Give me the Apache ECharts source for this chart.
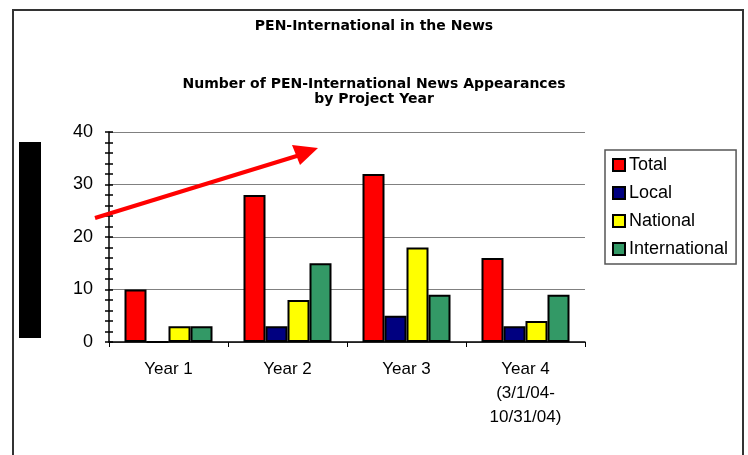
<!DOCTYPE html>
<html lang="en">
<head>
    <meta charset="UTF-8">
    <title>PEN-International in the News</title>
    <script src="https://cdn.jsdelivr.net/npm/echarts@6/dist/echarts.min.js"></script>
    <style>
        html, body { margin: 0; padding: 0; background: #fff; }
    </style>
</head>
<body>
    <div id="main" style="width:748px;height:455px;"></div>

    <script>
        // categories and series values
        const years = ['Year 1', 'Year 2', 'Year 3', 'Year 4\n(3/1/04-\n10/31/04)'];
        const total = [10, 28, 32, 16];
        const local = [0, 3, 5, 3];
        const national = [3, 8, 18, 4];
        const international = [3, 15, 9, 9];
        const yTicks = { min: 0, max: 40, interval: 10 };

        const font = '"Liberation Sans", Arial, sans-serif';
        const titleFont = '"DejaVu Sans", "Liberation Sans", sans-serif';
        const barBorder = { borderColor: '#000', borderWidth: 2 };

        function bar(name, data, color) {
            return {
                name: name,
                type: 'bar',
                data: data,
                barWidth: 22,
                barGap: '0%',
                itemStyle: Object.assign({ color: color }, barBorder),
                emphasis: { disabled: true }
            };
        }

        const option = {
            backgroundColor: '#fff',
            animation: false,
            title: [{
                text: 'PEN-International in the News',
                left: 'center',
                top: 19,
                padding: 0,
                textStyle: { fontFamily: titleFont, fontSize: 14, fontWeight: 'bold', color: '#000' }
            }, {
                text: 'Number of PEN-International News Appearances\nby Project Year',
                left: 'center',
                top: 77,
                padding: 0,
                textStyle: { fontFamily: titleFont, fontSize: 14, fontWeight: 'bold', color: '#000', lineHeight: 15 }
            }],
            legend: {
                orient: 'vertical',
                left: 605,
                top: 150,
                padding: [6, 8, 6, 7],
                itemWidth: 12,
                itemHeight: 12,
                itemGap: 10,
                icon: 'rect',
                borderColor: '#555',
                borderWidth: 1.5,
                textStyle: { fontFamily: font, fontSize: 18, color: '#000', padding: [0, 0, 0, -1] },
                data: ['Total', 'Local', 'National', 'International']
            },
            grid: { left: 109, right: 163, top: 132, bottom: 113 },
            xAxis: {
                type: 'category',
                data: years,
                axisLine: { lineStyle: { color: '#000', width: 1.5 } },
                axisTick: { show: true, length: 5, lineStyle: { color: '#000' } },
                axisLabel: { fontFamily: font, fontSize: 17, color: '#000', margin: 15, lineHeight: 24 }
            },
            yAxis: [{
                type: 'value',
                min: yTicks.min,
                max: yTicks.max,
                interval: yTicks.interval,
                axisLine: { show: true, lineStyle: { color: '#000', width: 1.5 } },
                axisTick: { show: true, length: 4, lineStyle: { color: '#000', width: 1.5 } },
                minorTick: { show: true, splitNumber: 5, length: 4, lineStyle: { color: '#000', width: 1.5 } },
                axisLabel: { fontFamily: font, fontSize: 18, color: '#000', margin: 16 },
                splitLine: { lineStyle: { color: '#808080', width: 1 } }
            }, {
                // same scale again, ticks pointing inside so they cross the axis line
                type: 'value',
                position: 'left',
                min: yTicks.min,
                max: yTicks.max,
                interval: yTicks.interval,
                axisLine: { show: false },
                axisTick: { show: true, inside: true, length: 4, lineStyle: { color: '#000', width: 1.5 } },
                minorTick: { show: true, splitNumber: 5, length: 4, lineStyle: { color: '#000', width: 1.5 } },
                axisLabel: { show: false },
                splitLine: { show: false }
            }],
            series: [
                bar('Total', total, '#ff0000'),
                bar('Local', local, '#000080'),
                bar('National', national, '#ffff00'),
                bar('International', international, '#339966')
            ],
            graphic: [
                // outer frame
                { type: 'rect', shape: { x: 13, y: 10, width: 730, height: 460 },
                  style: { fill: null, stroke: '#333', lineWidth: 2 }, silent: true },
                // black block at the left
                { type: 'rect', shape: { x: 19, y: 142, width: 22, height: 196 },
                  style: { fill: '#000' }, silent: true },
                // red trend arrow
                { type: 'line', shape: { x1: 95, y1: 218, x2: 300, y2: 155 },
                  style: { stroke: '#ff0000', lineWidth: 4 }, silent: true, z: 100 },
                { type: 'polygon', shape: { points: [[318, 148], [292, 145], [300, 165]] },
                  style: { fill: '#ff0000' }, silent: true, z: 100 }
            ]
        };

        var myChart = echarts.init(document.getElementById('main'));
        myChart.setOption(option);
    </script>
</body>
</html>
